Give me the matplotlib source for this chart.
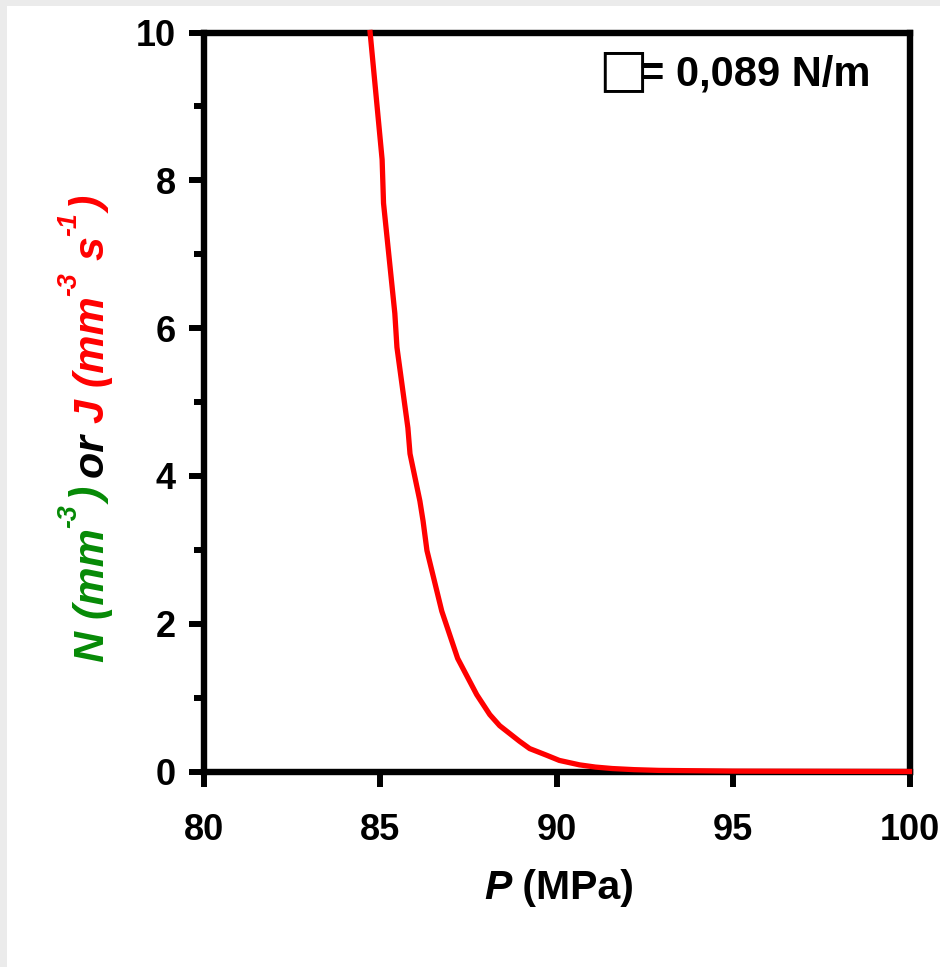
import matplotlib
matplotlib.use("Agg")
import matplotlib.pyplot as plt
from matplotlib.patches import Rectangle
from matplotlib.transforms import IdentityTransform
from matplotlib.font_manager import FontProperties

# ---- data ----
P_MPa = [84.72, 85.06, 85.10, 85.42, 85.48, 85.79, 85.85, 86.13, 86.22, 86.33,
         86.75, 87.20, 87.74, 88.11, 88.39, 88.95, 89.24, 89.72, 90.08, 90.65,
         91.1, 91.58, 92.2, 92.9, 95.0, 100.0]
J_rate = [10.0, 8.28, 7.69, 6.20, 5.74, 4.65, 4.30, 3.66, 3.39, 2.99,
          2.17, 1.53, 1.04, 0.77, 0.62, 0.41, 0.31, 0.22, 0.15, 0.09,
          0.06, 0.04, 0.025, 0.015, 0.005, 0.0]
x_ticks = [80, 85, 90, 95, 100]
y_ticks = [0, 2, 4, 6, 8, 10]
y_minor = [1, 3, 5, 7, 9]
legend_text = "= 0,089 N/m"

W, H = 940, 967
fig = plt.figure(figsize=(W / 100, H / 100), dpi=100)
fig.patch.set_facecolor("white")
grey = "#ebebeb"
fig.patches.append(Rectangle((0, 0), 7 / W, 1, transform=fig.transFigure,
                             facecolor=grey, edgecolor="none", zorder=-5))
fig.patches.append(Rectangle((0, 1 - 6 / H), 1, 6 / H, transform=fig.transFigure,
                             facecolor=grey, edgecolor="none", zorder=-5))

L, R, T, B = 203.5, 909.5, 32.5, 771.5
ax = fig.add_axes([L / W, 1 - B / H, (R - L) / W, (B - T) / H], zorder=2)
ax.set_facecolor("white")
ax.plot(P_MPa, J_rate, color="#ff0000", lw=3.8, zorder=5, clip_on=False,
        solid_joinstyle="round")
ax.set_xlim(80, 100)
ax.set_ylim(0, 10)
ax.set_xticks(x_ticks)
ax.set_yticks(y_ticks)
ax.set_yticks(y_minor, minor=True)
for s in ax.spines.values():
    s.set_linewidth(4.6)
    s.set_color("black")
ax.tick_params(axis="both", which="major", direction="out", length=11, width=4.3,
               labelsize=26, colors="black")
ax.tick_params(axis="x", which="major", pad=19)
ax.tick_params(axis="y", which="major", pad=9)
ax.tick_params(axis="y", which="minor", direction="out", length=7.5, width=4.3)
ax.tick_params(top=False, right=False)
for lab in ax.get_xticklabels() + ax.get_yticklabels():
    lab.set_fontfamily("Liberation Sans")
    lab.set_fontweight("bold")

fig.canvas.draw()
renderer = fig.canvas.get_renderer()

def adv(s, fp):
    w1, _, _ = renderer.get_text_width_height_descent("x" + s + "x", fp, ismath=False)
    w0, _, _ = renderer.get_text_width_height_descent("xx", fp, ismath=False)
    return w1 - w0

# x label: italic P + upright (MPa)
fs = 29.5
fp_it = FontProperties(family="Liberation Sans", weight="bold", style="italic", size=fs)
fp_up = FontProperties(family="Liberation Sans", weight="bold", size=fs)
parts = [("P", fp_it), (" (MPa)", fp_up)]
total = sum(adv(s, f) for s, f in parts)
x0 = 559 - total / 2
for s, f in parts:
    fig.text(x0, H - 899, s, fontproperties=f, color="black", transform=IdentityTransform(),
             ha="left", va="baseline")
    x0 += adv(s, f)

# y label: multicolour, rotated
fsy = 31
green = "#068a06"
red = "#ff0000"
base = FontProperties(family="Liberation Sans", weight="bold", style="italic", size=fsy)
sup = FontProperties(family="Liberation Sans", weight="bold", style="italic", size=fsy * 0.62)
ypieces = [("N (mm", base, green, 0), ("-3", sup, green, 1), (")", base, green, 0),
           (" or ", base, "black", 0), ("J (mm", base, red, 0), ("-3", sup, red, 1),
           (" s", base, red, 0), ("-1", sup, red, 1), (")", base, red, 0)]
ytotal = sum(adv(s, f) for s, f, c, u in ypieces)
xb = 104
yc = H - (430 + ytotal / 2)
for s, f, c, u in ypieces:
    xx = xb - (28 if u else 0)
    fig.text(xx, yc, s, fontproperties=f, color=c, transform=IdentityTransform(),
             rotation=90, rotation_mode="anchor", ha="left", va="baseline")
    yc += adv(s, f)

# legend-like annotation
fig.text(598, H - 85, "\u25a1", family="DejaVu Sans", fontsize=38, color="black",
         transform=IdentityTransform(), ha="left", va="baseline")
fig.text(640, H - 85, legend_text, family="Liberation Sans", weight="bold", fontsize=30,
         color="black", transform=IdentityTransform(), ha="left", va="baseline")

fig.savefig("out.png", dpi=100, facecolor=fig.get_facecolor())
